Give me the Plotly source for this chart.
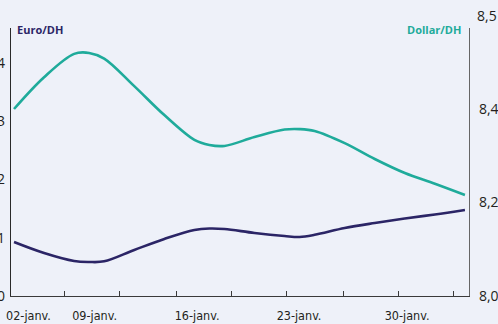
import plotly.graph_objects as go

# x: day index (January)
days = [4, 6, 8, 9, 10, 12, 14, 16, 17, 18, 20, 22, 23, 24, 26, 28, 30, 32, 34]
dollar_dh = [8.400, 8.468, 8.518, 8.520, 8.508, 8.449, 8.387, 8.334, 8.323, 8.321,
             8.340, 8.356, 8.357, 8.353, 8.327, 8.293, 8.263, 8.240, 8.216]
euro_dh = [0.927, 0.738, 0.601, 0.584, 0.595, 0.790, 0.979, 1.133, 1.159, 1.150,
           1.082, 1.030, 1.013, 1.050, 1.167, 1.253, 1.330, 1.399, 1.476]

x_tick_pos = [4.96, 9.36, 16.18, 22.96, 30.15]
x_tick_labels = ["02-janv.", "09-janv.", "16-janv.", "23-janv.", "30-janv."]
x_minor_pos = [7.33, 10.99, 14.78, 18.50, 22.16, 25.89, 29.55, 33.27]

left_ticks = [0, 1, 2, 3, 4]
left_labels = ["0", "1", "2", "3", "4"]
right_ticks = [8.0, 8.2, 8.4]
right_labels = ["8,0", "8,2", "8,4"]
right_top_label = "8,5"

NAVY = "#2b2566"
TEAL = "#1fab9b"
BG = "#eef1f9"
TICKFONT = dict(family="Open Sans, Liberation Sans, sans-serif", size=14, color="#231f20")

fig = go.Figure()
fig.add_trace(go.Scatter(x=days, y=euro_dh, mode="lines",
                         line=dict(color=NAVY, width=2.6, shape="spline", smoothing=1.0),
                         yaxis="y", showlegend=False))
fig.add_trace(go.Scatter(x=days, y=dollar_dh, mode="lines",
                         line=dict(color=TEAL, width=2.6, shape="spline", smoothing=1.0),
                         yaxis="y2", showlegend=False))

fig.update_layout(
    width=498, height=324,
    margin=dict(l=11, r=29, t=28, b=28),
    paper_bgcolor=BG, plot_bgcolor=BG,
    xaxis=dict(range=[3.80, 34.27], showgrid=False, zeroline=False, automargin=False,
               showline=True, linecolor="#3a3a3a", linewidth=1.2,
               tickmode="array", tickvals=x_tick_pos, ticktext=x_tick_labels,
               ticks="", ticklabelstandoff=8,
               tickfont=dict(family="DejaVu Sans Condensed, sans-serif",
                             size=12.5, color="#231f20"),
               minor=dict(tickmode="array", tickvals=x_minor_pos, ticks="inside",
                          ticklen=5, tickcolor="#3a3a3a", tickwidth=1, showgrid=False)),
    yaxis=dict(range=[0, 4.60], showgrid=False, zeroline=False, automargin=False,
               showline=True, linecolor="#2a2a2a", linewidth=1.2,
               tickmode="array", tickvals=left_ticks, ticktext=left_labels,
               ticks="", ticklabelstandoff=2, tickfont=TICKFONT),
    yaxis2=dict(range=[8.0, 8.5733], overlaying="y", side="right", automargin=False,
                showgrid=False, zeroline=False,
                showline=True, linecolor="#666666", linewidth=1.2,
                tickmode="array", tickvals=right_ticks, ticktext=right_labels,
                ticks="", ticklabelstandoff=6, tickfont=TICKFONT),
    annotations=[
        dict(text="<b>Euro/DH</b>", x=0.009, y=0.996, xref="paper", yref="paper",
             xanchor="left", yanchor="middle", showarrow=False,
             font=dict(family="Open Sans, sans-serif", size=11, color=NAVY)),
        dict(text="<b>Dollar/DH</b>", x=0.987, y=0.996, xref="paper", yref="paper",
             xanchor="right", yanchor="middle", showarrow=False,
             font=dict(family="Open Sans, sans-serif", size=11, color=TEAL)),
        dict(text=right_top_label, x=1, y=1.0485, xref="paper", yref="paper",
             xanchor="left", yanchor="middle", xshift=6, showarrow=False,
             font=TICKFONT),
    ],
)

fig.write_html("out.html")
